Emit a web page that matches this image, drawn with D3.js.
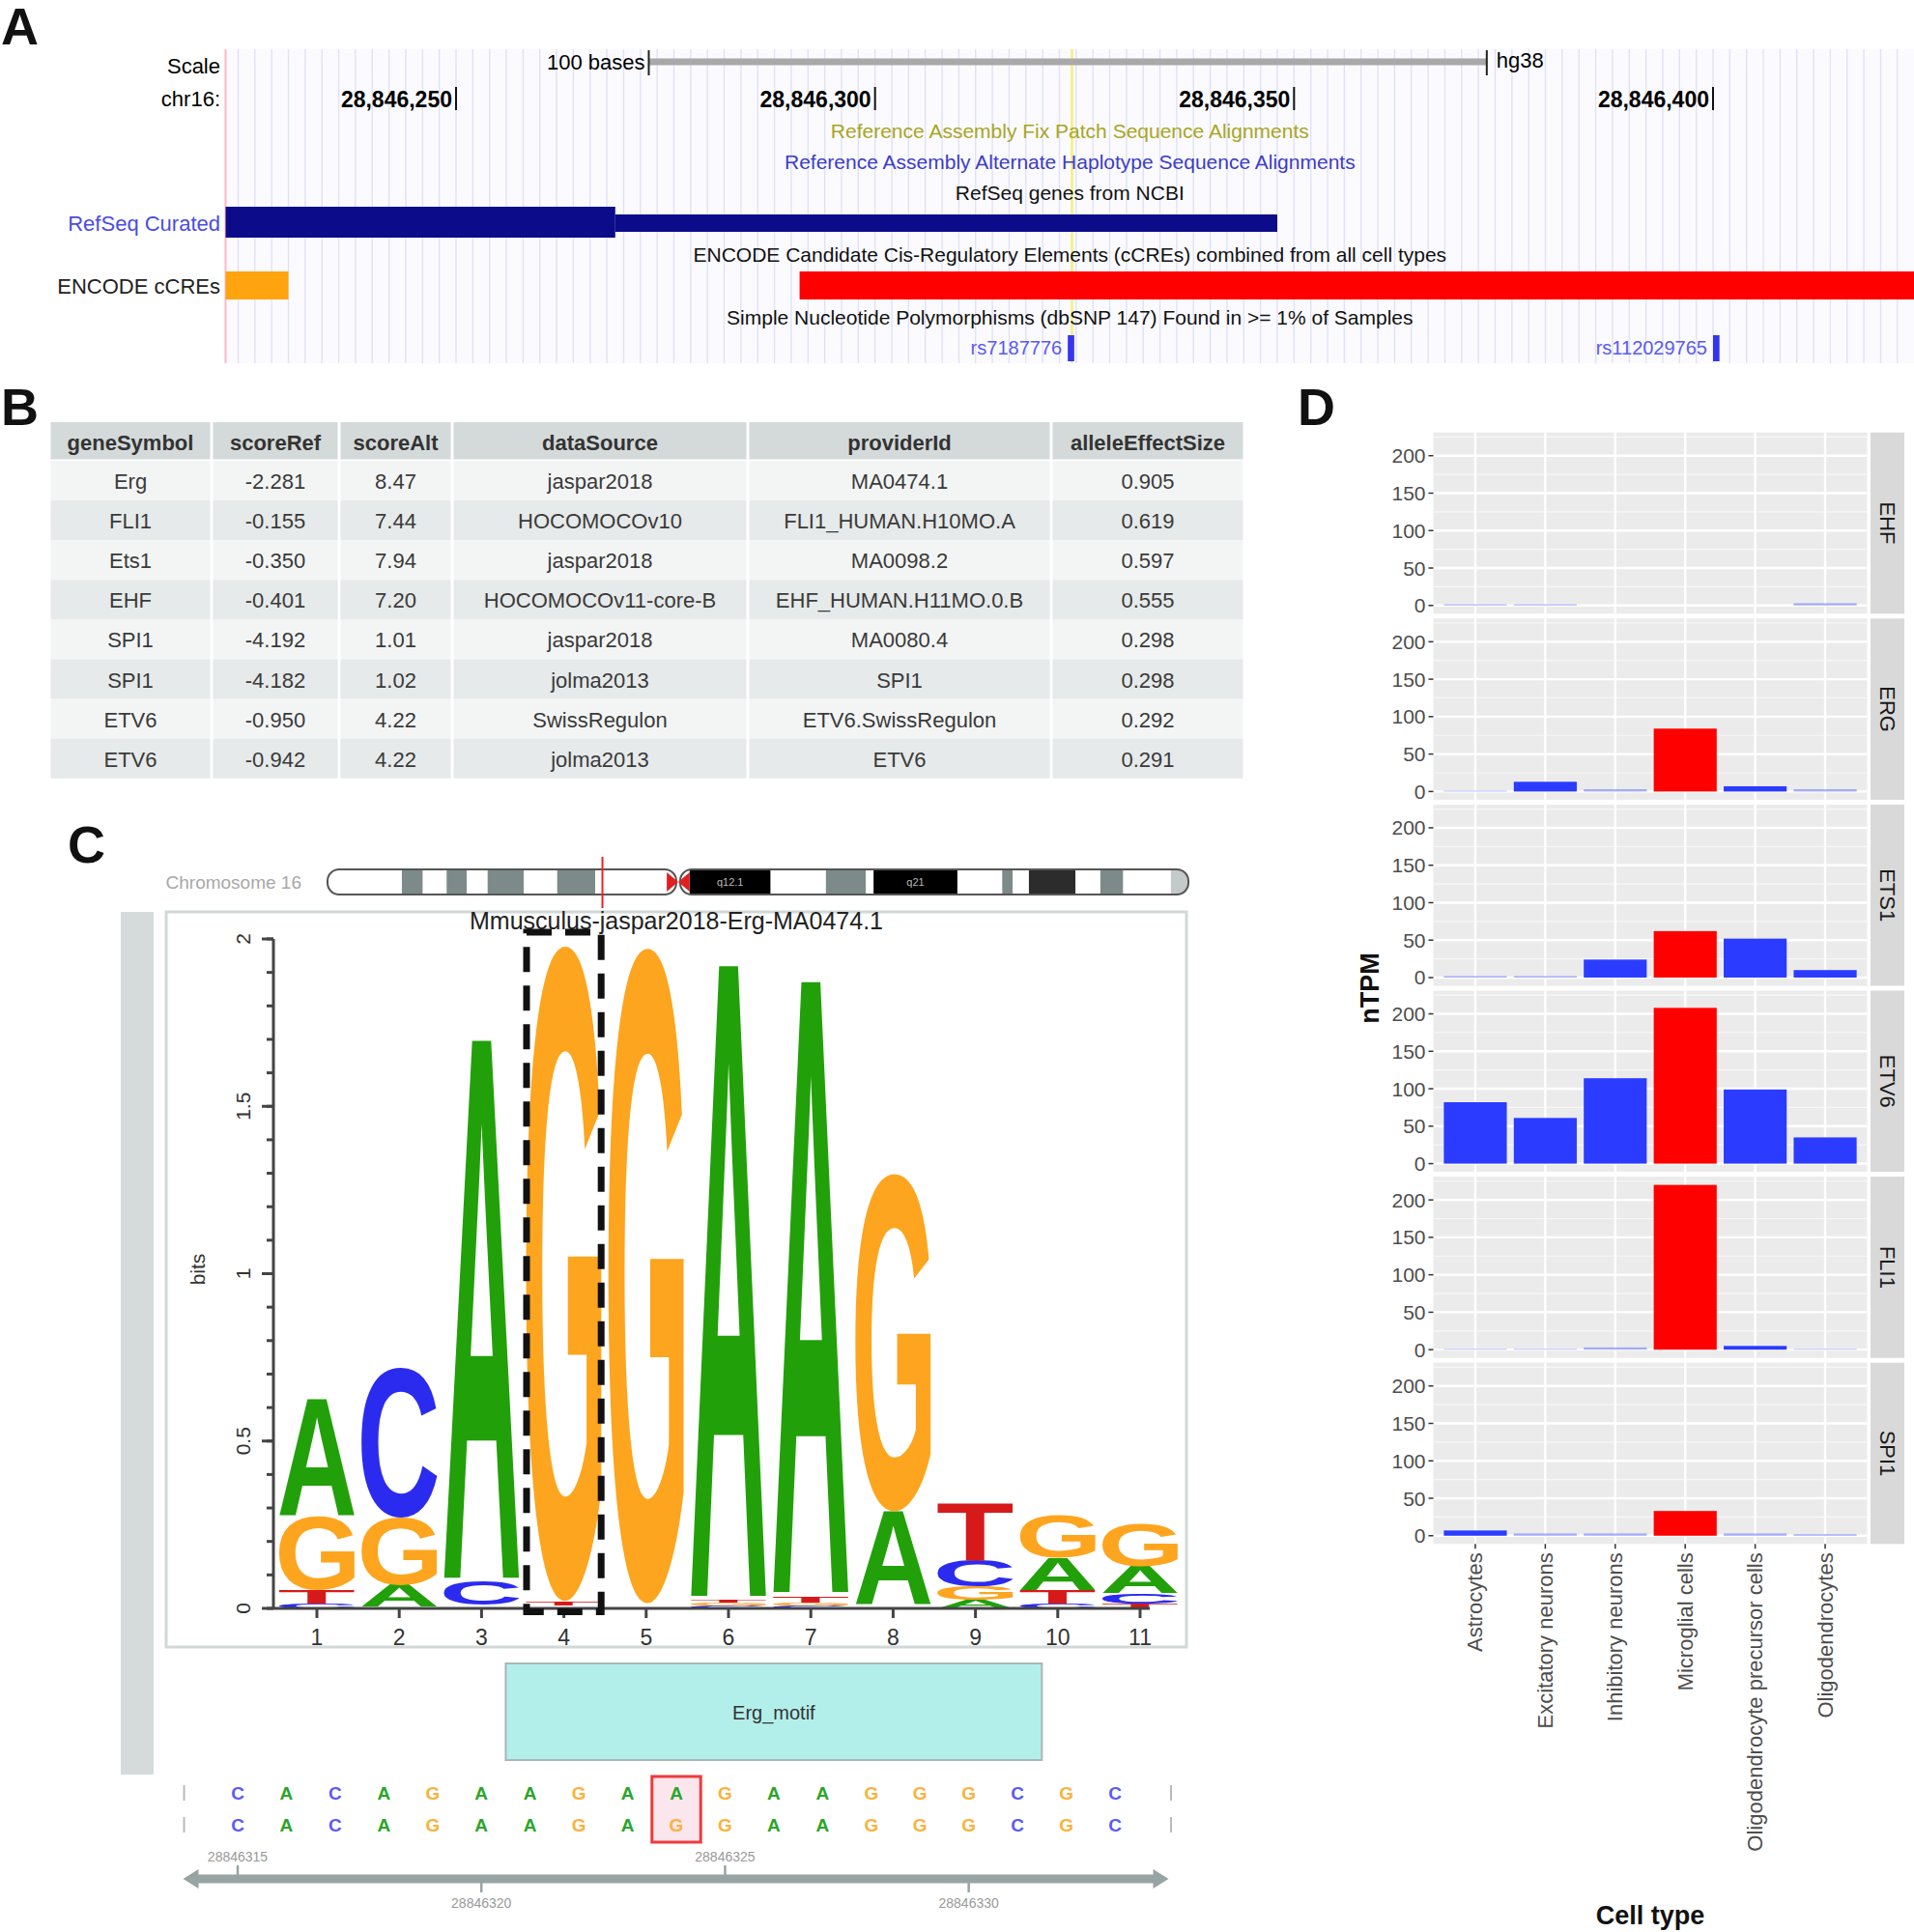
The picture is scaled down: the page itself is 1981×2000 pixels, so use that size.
<!DOCTYPE html>
<html><head><meta charset="utf-8">
<script src="https://cdn.jsdelivr.net/npm/d3@7"></script>
<style>
body{margin:0;background:#fff}
svg{display:block}
text{font-family:"Liberation Sans",Arial,Helvetica,sans-serif}
</style>
</head><body>
<svg id="fig" width="1981" height="2000"></svg>
<script>
// ================= DATA =================
// ---- Panel A : genome browser ----
const viewRange = [28846222.5, 28846424];
const positionTicks = [28846250, 28846300, 28846350, 28846400];
const scaleBar = [28846273, 28846373];
const scaleBarLabel = "100 bases";
const assemblyLabel = "hg38";
const trackTitles = [
  "Reference Assembly Fix Patch Sequence Alignments",
  "Reference Assembly Alternate Haplotype Sequence Alignments",
  "RefSeq genes from NCBI",
  "ENCODE Candidate Cis-Regulatory Elements (cCREs) combined from all cell types",
  "Simple Nucleotide Polymorphisms (dbSNP 147) Found in >= 1% of Samples"
];
const refseqGene = {start: 28846150, thickEnd: 28846269, end: 28846348};
const cCREs = [
  {start: 28846100, end: 28846230, kind: "orange"},
  {start: 28846291, end: 28846600, kind: "red"}
];
const snps = [
  {name: "rs7187776", pos: 28846323},
  {name: "rs112029765", pos: 28846400}
];

// ---- Panel B : table ----
const tableColumns = ["geneSymbol", "scoreRef", "scoreAlt", "dataSource", "providerId", "alleleEffectSize"];
const geneSymbol = ["Erg", "FLI1", "Ets1", "EHF", "SPI1", "SPI1", "ETV6", "ETV6"];
const scoreRef = ["-2.281", "-0.155", "-0.350", "-0.401", "-4.192", "-4.182", "-0.950", "-0.942"];
const scoreAlt = ["8.47", "7.44", "7.94", "7.20", "1.01", "1.02", "4.22", "4.22"];
const dataSource = ["jaspar2018", "HOCOMOCOv10", "jaspar2018", "HOCOMOCOv11-core-B", "jaspar2018", "jolma2013", "SwissRegulon", "jolma2013"];
const providerId = ["MA0474.1", "FLI1_HUMAN.H10MO.A", "MA0098.2", "EHF_HUMAN.H11MO.0.B", "MA0080.4", "SPI1", "ETV6.SwissRegulon", "ETV6"];
const alleleEffectSize = ["0.905", "0.619", "0.597", "0.555", "0.298", "0.298", "0.292", "0.291"];

// ---- Panel C : motif logo ----
const chromName = "Chromosome 16";
const chromLength = 90.338; // Mb
const chrBands = [ // [startMb, endMb, stain, label]
  [0, 7.8, "gneg"], [7.8, 10.0, "gpos50"], [10.0, 12.5, "gneg"], [12.5, 14.6, "gpos50"],
  [14.6, 16.8, "gneg"], [16.8, 20.6, "gpos50"], [20.6, 24.1, "gneg"], [24.1, 28.1, "gpos50"],
  [28.1, 35.6, "gneg"], [35.6, 38.0, "acen"], [38.0, 46.5, "gpos100", "q12.1"], [46.5, 52.3, "gneg"],
  [52.3, 56.5, "gpos50"], [56.5, 57.3, "gneg"], [57.3, 66.1, "gpos100", "q21"], [66.1, 70.8, "gneg"],
  [70.8, 71.9, "gpos50"], [71.9, 73.6, "gneg"], [73.6, 78.5, "gpos75"], [78.5, 81.1, "gneg"],
  [81.1, 83.5, "gpos50"], [83.5, 88.5, "gneg"], [88.5, 90.338, "gpos25"]
];
const snpMb = 28.846323;
const motifTitle = "Mmusculus-jaspar2018-Erg-MA0474.1";
const logoPositions = [1, 2, 3, 4, 5, 6, 7, 8, 9, 10, 11];
const bitsA = [0.35, 0.065, 1.62, 0.005, 0.005, 1.90, 1.84, 0.28, 0.025, 0.095, 0.08];
const bitsC = [0.015, 0.45, 0.07, 0.005, 0.005, 0.008, 0.008, 0.005, 0.08, 0.015, 0.03];
const bitsG = [0.22, 0.20, 0.005, 1.96, 1.96, 0.008, 0.008, 1.01, 0.04, 0.13, 0.13];
const bitsT = [0.04, 0.005, 0.005, 0.012, 0.005, 0.008, 0.02, 0.005, 0.17, 0.04, 0.015];
const snpMotifPos = 4;
const bitsTicks = [0, 0.5, 1, 1.5, 2];
const seqStart = 28846315;
const refSeq = "CACAGAAGAAGAAGGGCGC".split("");
const altSeq = "CACAGAAGAGGAAGGGCGC".split("");
const snpSeqPos = 28846324;
const motifRegion = {name: "Erg_motif", start: 28846321, end: 28846331};
const genomeTicks = [28846315, 28846320, 28846325, 28846330];

// ---- Panel D : nTPM bars ----
const cellTypes = ["Astrocytes", "Excitatory neurons", "Inhibitory neurons", "Microglial cells", "Oligodendrocyte precursor cells", "Oligodendrocytes"];
const tfGenes = ["EHF", "ERG", "ETS1", "ETV6", "FLI1", "SPI1"];
const nTPM_EHF  = [1.5, 1.5, 0, 0, 0, 3];
const nTPM_ERG  = [1, 13, 3, 84, 7, 3];
const nTPM_ETS1 = [2, 2, 24, 62, 52, 10];
const nTPM_ETV6 = [82, 61, 114, 208, 99, 35];
const nTPM_FLI1 = [1, 1, 3, 220, 5, 1];
const nTPM_SPI1 = [7, 3, 3, 33, 3, 2];
const nTPMticks = [0, 50, 100, 150, 200];
const highlightCell = "Microglial cells";

// ================= DRAW =================
const svg = d3.select("#fig");
svg.append("rect").attr("width", 1981).attr("height", 2000).attr("fill", "#fff");

function panelLabel(t, x, y) {
  svg.append("text").attr("x", x).attr("y", y).text(t)
    .attr("font-size", 54).attr("font-weight", "bold").attr("fill", "#111");
}
panelLabel("A", 1, 46);
panelLabel("B", 1, 440);
panelLabel("C", 70, 893);
panelLabel("D", 1343, 440);

// ---------- Panel A ----------
(function () {
  const g = svg.append("g");
  const xA = d3.scaleLinear().domain([positionTicks[0], positionTicks[3]]).range([472, 1773]);
  const L = xA(viewRange[0]), R = xA(viewRange[1]);
  const top = 51, bot = 376;
  g.append("rect").attr("x", L).attr("y", top).attr("width", R - L).attr("height", bot - top).attr("fill", "#fbfbff");
  g.selectAll("line.vg").data(d3.range(Math.ceil(viewRange[0]) + 1, viewRange[1], 2)).join("line")
    .attr("x1", d => xA(d)).attr("x2", d => xA(d)).attr("y1", top).attr("y2", bot)
    .attr("stroke", "#e1e1f6").attr("stroke-width", 1.4);
  g.append("line").attr("x1", L).attr("x2", L).attr("y1", top).attr("y2", bot).attr("stroke", "#ffb6c6").attr("stroke-width", 2);
  g.append("line").attr("x1", xA(snps[0].pos + 0.5)).attr("x2", xA(snps[0].pos + 0.5)).attr("y1", top).attr("y2", bot)
    .attr("stroke", "#f4f07a").attr("stroke-width", 2.5);

  const fs = 22;
  g.append("text").attr("x", 228).attr("y", 76).attr("text-anchor", "end").attr("font-size", fs).text("Scale");
  g.append("text").attr("x", 228).attr("y", 110).attr("text-anchor", "end").attr("font-size", fs).text("chr16:");
  g.append("line").attr("x1", xA(scaleBar[0])).attr("x2", xA(scaleBar[1])).attr("y1", 64).attr("y2", 64)
    .attr("stroke", "#a9a9a9").attr("stroke-width", 7);
  [scaleBar[0], scaleBar[1]].forEach(p => g.append("line").attr("x1", xA(p)).attr("x2", xA(p)).attr("y1", 52).attr("y2", 78)
    .attr("stroke", "#222").attr("stroke-width", 2));
  g.append("text").attr("x", xA(scaleBar[0]) - 4).attr("y", 72).attr("text-anchor", "end").attr("font-size", fs).text(scaleBarLabel);
  g.append("text").attr("x", xA(scaleBar[1]) + 10).attr("y", 70).attr("font-size", fs).text(assemblyLabel);
  positionTicks.forEach(t => {
    g.append("line").attr("x1", xA(t)).attr("x2", xA(t)).attr("y1", 90).attr("y2", 114).attr("stroke", "#111").attr("stroke-width", 2);
    g.append("text").attr("x", xA(t) - 4).attr("y", 111).attr("text-anchor", "end").attr("font-size", 23)
      .attr("font-weight", "bold").text(d3.format(",")(t));
  });
  const cx = (L + R) / 2;
  const titleStyle = [["#a9a61f", 143], ["#3c3cc8", 175], ["#111", 207], ["#111", 271], ["#111", 336]];
  trackTitles.forEach((t, i) => g.append("text").attr("x", cx).attr("y", titleStyle[i][1]).attr("text-anchor", "middle")
    .attr("font-size", 21).attr("fill", titleStyle[i][0]).text(t));
  g.append("text").attr("x", 228).attr("y", 239).attr("text-anchor", "end").attr("font-size", fs).attr("fill", "#4b4be6").text("RefSeq Curated");
  const clip = v => Math.max(viewRange[0], Math.min(viewRange[1], v));
  g.append("rect").attr("x", xA(clip(refseqGene.start))).attr("y", 214)
    .attr("width", xA(clip(refseqGene.thickEnd)) - xA(clip(refseqGene.start))).attr("height", 32).attr("fill", "#0c0c8a");
  g.append("rect").attr("x", xA(clip(refseqGene.thickEnd))).attr("y", 222)
    .attr("width", xA(clip(refseqGene.end)) - xA(clip(refseqGene.thickEnd))).attr("height", 18).attr("fill", "#0c0c8a");
  g.append("text").attr("x", 228).attr("y", 304).attr("text-anchor", "end").attr("font-size", fs).attr("fill", "#222").text("ENCODE cCREs");
  const cColor = {orange: "#ffa30f", red: "#ff0000"};
  g.selectAll("rect.ccre").data(cCREs).join("rect")
    .attr("x", d => xA(clip(d.start))).attr("width", d => xA(clip(d.end)) - xA(clip(d.start)))
    .attr("y", 281).attr("height", 29).attr("fill", d => cColor[d.kind]);
  g.selectAll("rect.snp").data(snps).join("rect")
    .attr("x", d => xA(d.pos)).attr("width", d => xA(d.pos + 1) - xA(d.pos) - 2)
    .attr("y", 347).attr("height", 27).attr("fill", "#3535f0");
  g.selectAll("text.snp").data(snps).join("text")
    .attr("x", d => xA(d.pos) - 6).attr("y", 367).attr("text-anchor", "end").attr("font-size", 20)
    .attr("fill", "#5a5af2").text(d => d.name);
})();

// ---------- Panel B ----------
(function () {
  const g = svg.append("g");
  const edges = [51, 219, 351, 468, 774, 1088, 1288];
  const headY = 437, headH = 40, rowH = 41.1;
  const cols = [geneSymbol, scoreRef, scoreAlt, dataSource, providerId, alleleEffectSize];
  tableColumns.forEach((c, j) => {
    g.append("rect").attr("x", edges[j] + 1.5).attr("y", headY).attr("width", edges[j + 1] - edges[j] - 3)
      .attr("height", headH - 1.5).attr("fill", "#d4dada");
    g.append("text").attr("x", (edges[j] + edges[j + 1]) / 2).attr("y", headY + headH / 2 + 1)
      .attr("text-anchor", "middle").attr("dominant-baseline", "central").attr("font-size", 22)
      .attr("font-weight", "bold").attr("fill", "#333").text(c);
  });
  geneSymbol.forEach((_, i) => {
    const y = headY + headH + i * rowH;
    cols.forEach((col, j) => {
      g.append("rect").attr("x", edges[j] + 1.5).attr("y", y).attr("width", edges[j + 1] - edges[j] - 3)
        .attr("height", rowH).attr("fill", i % 2 === 0 ? "#f3f5f5" : "#e6eaea");
      g.append("text").attr("x", (edges[j] + edges[j + 1]) / 2).attr("y", y + rowH / 2 + 1)
        .attr("text-anchor", "middle").attr("dominant-baseline", "central").attr("font-size", 22)
        .attr("fill", "#3a3a3a").text(col[i]);
    });
  });
})();

// ---------- Panel C ----------
(function () {
  const g = svg.append("g");
  g.append("rect").attr("x", 125).attr("y", 944).attr("width", 34).attr("height", 893).attr("fill", "#d5dbdb");
  g.append("text").attr("x", 312).attr("y", 920).attr("text-anchor", "end").attr("font-size", 19).attr("fill", "#a8a8a8").text(chromName);
  const xc = d3.scaleLinear().domain([0, chromLength]).range([339, 1230]);
  const cenL = xc(35.6), cenR = xc(38.0), cenM = (cenL + cenR) / 2;
  const iy = 900, ih = 26;
  const defs = svg.append("defs");
  const cp = defs.append("clipPath").attr("id", "chrclip");
  cp.append("rect").attr("x", xc(0)).attr("y", iy).attr("width", cenM - 2 - xc(0)).attr("height", ih).attr("rx", 12);
  cp.append("rect").attr("x", cenM + 2).attr("y", iy).attr("width", xc(chromLength) - cenM - 2).attr("height", ih).attr("rx", 12);
  const stainCol = {gneg: "#ffffff", gpos25: "#c4caca", gpos50: "#7d8a8a", gpos75: "#2c2c2c", gpos100: "#000000"};
  const ig = g.append("g").attr("clip-path", "url(#chrclip)");
  ig.selectAll("rect").data(chrBands.filter(b => b[2] !== "acen")).join("rect")
    .attr("x", d => xc(d[0])).attr("width", d => xc(d[1]) - xc(d[0])).attr("y", iy).attr("height", ih)
    .attr("fill", d => stainCol[d[2]]);
  g.append("rect").attr("x", xc(0)).attr("y", iy).attr("width", cenM - 2 - xc(0)).attr("height", ih).attr("rx", 12)
    .attr("fill", "none").attr("stroke", "#555").attr("stroke-width", 2);
  g.append("rect").attr("x", cenM + 2).attr("y", iy).attr("width", xc(chromLength) - cenM - 2).attr("height", ih).attr("rx", 12)
    .attr("fill", "none").attr("stroke", "#555").attr("stroke-width", 2);
  g.append("path").attr("d", `M${cenL},${iy + 3}L${cenM},${iy + ih / 2}L${cenL},${iy + ih - 3}Z M${cenR},${iy + 3}L${cenM},${iy + ih / 2}L${cenR},${iy + ih - 3}Z`)
    .attr("fill", "#e02020");
  chrBands.filter(b => b[3]).forEach(b => g.append("text").attr("x", (xc(b[0]) + xc(b[1])) / 2).attr("y", iy + ih / 2)
    .attr("text-anchor", "middle").attr("dominant-baseline", "central").attr("font-size", 11).attr("fill", "#bbb").text(b[3]));
  g.append("line").attr("x1", xc(snpMb)).attr("x2", xc(snpMb)).attr("y1", 887).attr("y2", 940).attr("stroke", "#ee2222").attr("stroke-width", 2);

  g.append("rect").attr("x", 172).attr("y", 944).attr("width", 1056).attr("height", 761)
    .attr("fill", "#fff").attr("stroke", "#d2d8d8").attr("stroke-width", 3);
  g.append("text").attr("x", 700).attr("y", 962).attr("text-anchor", "middle").attr("font-size", 25).attr("fill", "#222").text(motifTitle);

  const yL = d3.scaleLinear().domain([0, 2]).range([1665, 972]);
  const xL = d3.scaleBand().domain(logoPositions).range([285.4, 1222.6]);
  const bw = xL.bandwidth();
  const ctx = document.createElement("canvas").getContext("2d");
  const FS = 200;
  ctx.font = `bold ${FS}px "Liberation Sans", Arial, sans-serif`;
  const gm = {};
  ["A", "C", "G", "T"].forEach(l => {
    const m = ctx.measureText(l);
    gm[l] = {L: m.actualBoundingBoxLeft, R: m.actualBoundingBoxRight, A: m.actualBoundingBoxAscent, D: m.actualBoundingBoxDescent};
  });
  const baseCol = {A: "#22a00a", C: "#2b2bf0", G: "#fda51f", T: "#d61a1a"};
  const stacks = [];
  logoPositions.forEach((p, i) => {
    const items = [["A", bitsA[i]], ["C", bitsC[i]], ["G", bitsG[i]], ["T", bitsT[i]]].sort((a, b) => a[1] - b[1]);
    let cum = 0;
    items.forEach(([l, h]) => { stacks.push({p, l, y0: cum, y1: cum + h}); cum += h; });
  });
  const lw = bw * 0.92;
  // letters thinner than ~2px are not visible; they still take up their space in the stack
  g.append("g").selectAll("text").data(stacks.filter(d => yL(d.y0) - yL(d.y1) >= 2)).join("text")
    .attr("font-size", FS).attr("font-weight", "bold").attr("fill", d => baseCol[d.l]).text(d => d.l)
    .attr("transform", d => {
      const m = gm[d.l];
      const rx = xL(d.p) + (bw - lw) / 2, ry = yL(d.y1), rh = yL(d.y0) - yL(d.y1);
      const sx = lw / (m.L + m.R), sy = rh / (m.A + m.D);
      return `translate(${rx},${ry}) scale(${sx},${sy}) translate(${m.L},${m.A})`;
    });
  const ax = 283;
  g.append("line").attr("x1", ax).attr("x2", ax).attr("y1", yL(2)).attr("y2", yL(0)).attr("stroke", "#444").attr("stroke-width", 3);
  g.selectAll("line.minor").data(d3.range(0, 21).map(v => v / 10)).join("line")
    .attr("x1", ax - 7).attr("x2", ax).attr("y1", d => yL(d)).attr("y2", d => yL(d)).attr("stroke", "#444").attr("stroke-width", 3);
  g.selectAll("line.major").data(bitsTicks).join("line")
    .attr("x1", ax - 12).attr("x2", ax).attr("y1", d => yL(d)).attr("y2", d => yL(d)).attr("stroke", "#444").attr("stroke-width", 3);
  g.selectAll("text.ylab").data(bitsTicks).join("text")
    .attr("transform", d => `translate(${ax - 24},${yL(d)}) rotate(-90)`).attr("text-anchor", "middle")
    .attr("font-size", 21).attr("fill", "#333").text(d => d);
  g.append("text").attr("transform", "translate(212,1314) rotate(-90)").attr("text-anchor", "middle")
    .attr("font-size", 21).attr("fill", "#333").text("bits");
  g.append("line").attr("x1", ax).attr("x2", xL(11) + bw / 2 + 10).attr("y1", yL(0)).attr("y2", yL(0)).attr("stroke", "#444").attr("stroke-width", 3);
  g.selectAll("line.xt").data(logoPositions).join("line")
    .attr("x1", d => xL(d) + bw / 2).attr("x2", d => xL(d) + bw / 2).attr("y1", yL(0)).attr("y2", yL(0) + 10)
    .attr("stroke", "#444").attr("stroke-width", 3);
  g.selectAll("text.xlab").data(logoPositions).join("text")
    .attr("x", d => xL(d) + bw / 2).attr("y", 1703).attr("text-anchor", "middle").attr("font-size", 23).attr("fill", "#333").text(d => d);
  g.append("rect").attr("x", xL(snpMotifPos) + 4).attr("y", yL(2.02)).attr("width", bw - 8).attr("height", yL(-0.01) - yL(2.02))
    .attr("fill", "none").attr("stroke", "#111").attr("stroke-width", 7).attr("stroke-dasharray", "26,14");

  const xs = d3.scaleLinear().domain([seqStart, seqStart + refSeq.length - 1]).range([246, 1154]);
  g.append("rect").attr("x", xs(motifRegion.start - 0.5)).attr("y", 1722)
    .attr("width", xs(motifRegion.end + 0.5) - xs(motifRegion.start - 0.5)).attr("height", 100)
    .attr("fill", "#b3efea").attr("stroke", "#a9b6b6").attr("stroke-width", 2);
  g.append("text").attr("x", (xs(motifRegion.start - 0.5) + xs(motifRegion.end + 0.5)) / 2).attr("y", 1773)
    .attr("text-anchor", "middle").attr("dominant-baseline", "central").attr("font-size", 20).attr("fill", "#333").text(motifRegion.name);
  g.append("rect").attr("x", xs(snpSeqPos - 0.5)).attr("y", 1839).attr("width", xs(snpSeqPos + 0.5) - xs(snpSeqPos - 0.5)).attr("height", 68)
    .attr("fill", "#fbe6ee").attr("stroke", "#ee3b3b").attr("stroke-width", 3);
  const seqCol = {A: "#2aa52a", C: "#5a5af5", G: "#fbb23a", T: "#d62828"};
  [[refSeq, 1856], [altSeq, 1889]].forEach(([seq, yy]) => {
    g.selectAll(null).data(seq).join("text")
      .attr("x", (d, i) => xs(seqStart + i)).attr("y", yy).attr("text-anchor", "middle").attr("dominant-baseline", "central")
      .attr("font-size", 19).attr("font-weight", "bold").attr("fill", d => seqCol[d]).text(d => d);
    [seqStart - 1.1, seqStart + seq.length - 1 + 1.15].forEach(p => g.append("line").attr("x1", xs(p)).attr("x2", xs(p))
      .attr("y1", yy - 8).attr("y2", yy + 8).attr("stroke", "#bbb").attr("stroke-width", 2));
  });
  const gx0 = xs(seqStart - 1.12), gx1 = xs(seqStart + refSeq.length - 1 + 1.1), gy = 1945;
  g.append("line").attr("x1", gx0 + 10).attr("x2", gx1 - 10).attr("y1", gy).attr("y2", gy).attr("stroke", "#98a4a4").attr("stroke-width", 9);
  g.append("path").attr("d", `M${gx0},${gy}L${gx0 + 16},${gy - 10}L${gx0 + 16},${gy + 10}Z M${gx1},${gy}L${gx1 - 16},${gy - 10}L${gx1 - 16},${gy + 10}Z`).attr("fill", "#98a4a4");
  genomeTicks.forEach((t, i) => {
    const up = i % 2 === 0;
    g.append("line").attr("x1", xs(t)).attr("x2", xs(t)).attr("y1", gy).attr("y2", up ? gy - 14 : gy + 14).attr("stroke", "#98a4a4").attr("stroke-width", 2.5);
    g.append("text").attr("x", xs(t)).attr("y", up ? gy - 18 : gy + 30).attr("text-anchor", "middle")
      .attr("font-size", 14).attr("fill", "#999").text(t);
  });
})();

// ---------- Panel D ----------
(function () {
  const g = svg.append("g");
  const series = [nTPM_EHF, nTPM_ERG, nTPM_ETS1, nTPM_ETV6, nTPM_FLI1, nTPM_SPI1];
  const maxV = d3.max(series.flat());
  const pad = maxV * 0.05;
  const px0 = 1483.5, px1 = 1932.5, top0 = 447.7, step = 192.6, ph = 187.6;
  const x = d3.scaleBand().domain(cellTypes).range([px0, px1]).paddingInner(0.1).paddingOuter(0.15);
  tfGenes.forEach((gene, k) => {
    const t = top0 + k * step;
    const y = d3.scaleLinear().domain([-pad, maxV + pad]).range([t + ph, t]);
    const pg = g.append("g");
    pg.append("rect").attr("x", px0).attr("y", t).attr("width", px1 - px0).attr("height", ph).attr("fill", "#ebebeb");
    const minor = d3.range(25, maxV + pad, 50);
    pg.selectAll("line.mn").data(minor).join("line").attr("x1", px0).attr("x2", px1)
      .attr("y1", d => y(d)).attr("y2", d => y(d)).attr("stroke", "#f7f7f7").attr("stroke-width", 1.2);
    pg.selectAll("line.mj").data(nTPMticks).join("line").attr("x1", px0).attr("x2", px1)
      .attr("y1", d => y(d)).attr("y2", d => y(d)).attr("stroke", "#fff").attr("stroke-width", 2.4);
    pg.selectAll("line.vx").data(cellTypes).join("line").attr("x1", d => x(d) + x.bandwidth() / 2).attr("x2", d => x(d) + x.bandwidth() / 2)
      .attr("y1", t).attr("y2", t + ph).attr("stroke", "#fff").attr("stroke-width", 2.4);
    pg.selectAll("rect.bar").data(series[k]).join("rect")
      .attr("x", (d, i) => x(cellTypes[i])).attr("width", x.bandwidth())
      .attr("y", d => y(d)).attr("height", d => y(0) - y(d))
      .attr("fill", (d, i) => cellTypes[i] === highlightCell ? "#ff0000" : "#2b3bff")
      .attr("fill-opacity", d => d < 4 ? 0.4 : 1);
    pg.selectAll("line.yt").data(nTPMticks).join("line").attr("x1", px0 - 5).attr("x2", px0)
      .attr("y1", d => y(d)).attr("y2", d => y(d)).attr("stroke", "#333").attr("stroke-width", 1.5);
    pg.selectAll("text.yl").data(nTPMticks).join("text").attr("x", px0 - 8).attr("y", d => y(d))
      .attr("text-anchor", "end").attr("dominant-baseline", "central").attr("font-size", 21).attr("fill", "#4d4d4d").text(d => d);
    pg.append("rect").attr("x", 1936).attr("y", t).attr("width", 35).attr("height", ph).attr("fill", "#d9d9d9");
    pg.append("text").attr("transform", `translate(1953.5,${t + ph / 2}) rotate(90)`).attr("text-anchor", "middle")
      .attr("dominant-baseline", "central").attr("font-size", 22).attr("fill", "#1a1a1a").text(gene);
  });
  const bottom = top0 + 5 * step + ph;
  g.selectAll("line.xt").data(cellTypes).join("line").attr("x1", d => x(d) + x.bandwidth() / 2).attr("x2", d => x(d) + x.bandwidth() / 2)
    .attr("y1", bottom).attr("y2", bottom + 5).attr("stroke", "#333").attr("stroke-width", 1.5);
  g.selectAll("text.xl").data(cellTypes).join("text")
    .attr("transform", d => `translate(${x(d) + x.bandwidth() / 2},${bottom + 9}) rotate(-90)`)
    .attr("text-anchor", "end").attr("dominant-baseline", "central").attr("font-size", 22).attr("fill", "#4d4d4d").text(d => d);
  g.append("text").attr("transform", `translate(1418,${(top0 + bottom) / 2}) rotate(-90)`).attr("text-anchor", "middle")
    .attr("dominant-baseline", "central").attr("font-size", 27).attr("font-weight", "bold").attr("fill", "#111").text("nTPM");
  g.append("text").attr("x", (px0 + px1) / 2).attr("y", 1992).attr("text-anchor", "middle")
    .attr("font-size", 27).attr("font-weight", "bold").attr("fill", "#111").text("Cell type");
})();
</script>
</body></html>
